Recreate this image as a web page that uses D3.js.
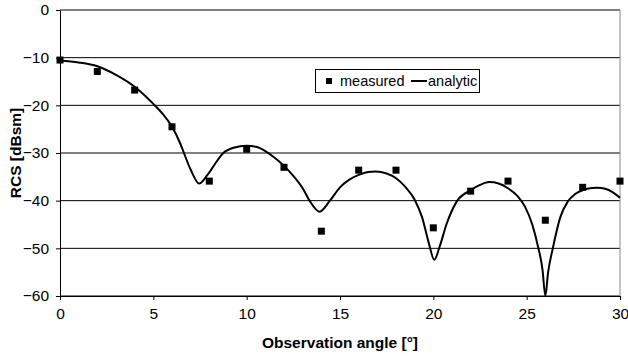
<!DOCTYPE html>
<html>
<head>
<meta charset="utf-8">
<script src="https://cdn.jsdelivr.net/npm/d3@7"></script>
<style>
  body { margin: 0; background: #fff; }
  text { font-family: "Liberation Sans", Arial, sans-serif; }
</style>
</head>
<body>
<script>
// measured RCS values (every 2 degrees)
const measuredAngle = [0, 2, 4, 6, 8, 10, 12, 14, 16, 18, 20, 22, 24, 26, 28, 30];
const measuredRcs = [-10.5, -12.9, -16.8, -24.5, -35.9, -29.2, -33, -46.4, -33.6, -33.6, -45.7, -38, -35.9, -44.1, -37.2, -35.9];

// analytic curve
const analyticAngle = [0, 1, 2, 3, 4, 5, 5.5, 6, 6.43, 6.64, 7, 7.45, 7.9, 8.3, 8.75, 9.3, 10, 10.5, 11, 11.5, 12, 12.5, 13, 13.4,
  13.9, 14.46, 15, 15.5, 16, 16.5, 16.9, 17.5, 18, 18.5, 19, 19.4, 19.75, 20.05, 20.35, 20.7, 21.25, 22, 22.5, 23, 23.5, 24, 24.5,
  24.9, 25.3, 25.6, 25.85, 26, 26.15, 26.4, 26.8, 27.2, 27.6, 28, 28.5, 28.8, 29.2, 29.6, 30];
const analyticRcs = [-10.6, -11, -11.8, -13.6, -16.1, -19.7, -21.8, -24.5, -27.9, -30, -33.5, -36.4, -34.6, -32.3, -30, -28.9, -28.5, -28.7, -29.6, -31, -32.7, -34.8, -37.4, -40.2,
  -42.3, -40, -37.2, -35.6, -34.6, -34, -33.9, -34.3, -35.3, -37.1, -39.8, -43.5, -48.8, -52.4, -49.5, -45, -40.2, -37.8, -36.7, -36.1, -36.4, -37.4, -39,
  -41.2, -45, -49.5, -54.5, -60, -55, -50, -43.5, -40.2, -38.6, -37.8, -37.35, -37.3, -37.5, -38.2, -39.4];

const xTicks = [0, 5, 10, 15, 20, 25, 30];
const yTicks = [0, -10, -20, -30, -40, -50, -60];

const width = 628, height = 359;
const margin = {left: 60, right: 8, top: 10, bottom: 63};

const svg = d3.select("body").append("svg")
    .attr("width", width)
    .attr("height", height);

const x = d3.scaleLinear().domain([0, 30]).range([margin.left, width - margin.right]);
const y = d3.scaleLinear().domain([-60, 0]).range([height - margin.bottom, margin.top]);

// grid lines
svg.append("g")
    .selectAll("line")
    .data(yTicks)
    .join("line")
    .attr("x1", x(0))
    .attr("x2", x(30))
    .attr("y1", d => y(d))
    .attr("y2", d => y(d))
    .style("stroke", "#000")
    .style("stroke-width", 1);

// right border of plot area
svg.append("line")
    .attr("x1", x(30)).attr("x2", x(30))
    .attr("y1", y(0)).attr("y2", y(-60))
    .style("stroke", "#888");

const xAxis = d3.axisBottom(x).tickValues(xTicks).tickSize(4).tickPadding(8);
const gx = svg.append("g")
    .attr("transform", `translate(0, ${y(-60)})`)
    .call(xAxis);
gx.selectAll("text").style("font-size", "15.5px").style("fill", "#000").style("font-family", "Liberation Sans, Arial, sans-serif");

const yAxis = d3.axisLeft(y).tickValues(yTicks).tickSize(4).tickPadding(7);
const gy = svg.append("g")
    .attr("transform", `translate(${x(0)}, 0)`)
    .call(yAxis);
gy.selectAll("text").style("font-size", "15.5px").style("fill", "#000").style("font-family", "Liberation Sans, Arial, sans-serif");

svg.selectAll(".domain").style("stroke", "#000");
svg.selectAll(".tick line").style("stroke", "#000");

// analytic line
const line = d3.line()
    .x((d, i) => x(analyticAngle[i]))
    .y(d => y(d))
    .curve(d3.curveMonotoneX);

svg.append("path")
    .attr("d", line(analyticRcs))
    .style("fill", "none")
    .style("stroke", "#000")
    .style("stroke-width", 2);

// measured squares
const sq = 7;
svg.append("g")
    .selectAll("rect")
    .data(measuredRcs)
    .join("rect")
    .attr("x", (d, i) => x(measuredAngle[i]) - sq / 2)
    .attr("y", d => y(d) - sq / 2)
    .attr("width", sq)
    .attr("height", sq)
    .style("fill", "#000");

// axis titles
svg.append("text")
    .attr("x", (x(0) + x(30)) / 2)
    .attr("y", 348)
    .attr("text-anchor", "middle")
    .style("font-size", "15.5px")
    .style("font-weight", "bold")
    .text("Observation angle [°]");

svg.append("text")
    .attr("transform", `translate(21, ${(y(0) + y(-60)) / 2}) rotate(-90)`)
    .attr("text-anchor", "middle")
    .style("font-size", "15.5px")
    .style("font-weight", "bold")
    .text("RCS [dBsm]");

// legend
const legend = svg.append("g").attr("transform", "translate(315, 69)");
legend.append("rect")
    .attr("x", 0.5).attr("y", 0.5)
    .attr("width", 164).attr("height", 23)
    .style("fill", "#fff")
    .style("stroke", "#000");
legend.append("rect")
    .attr("x", 11).attr("y", 9)
    .attr("width", 6).attr("height", 6)
    .style("fill", "#000");
legend.append("text")
    .attr("x", 25).attr("y", 17)
    .style("font-size", "14.5px")
    .text("measured");
legend.append("line")
    .attr("x1", 96).attr("x2", 112)
    .attr("y1", 12).attr("y2", 12)
    .style("stroke", "#000")
    .style("stroke-width", 2);
legend.append("text")
    .attr("x", 113).attr("y", 17)
    .style("font-size", "14.5px")
    .text("analytic");
</script>
</body>
</html>
